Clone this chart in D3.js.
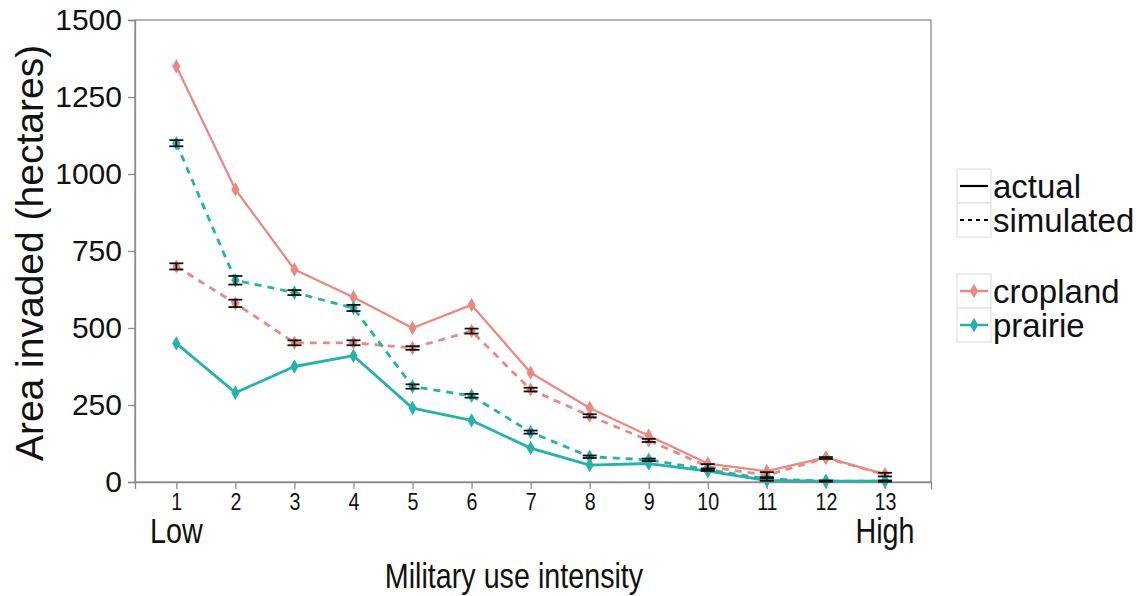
<!DOCTYPE html>
<html>
<head>
<meta charset="utf-8">
<script src="https://cdn.jsdelivr.net/npm/d3@7"></script>
<style>
  html, body { margin: 0; padding: 0; background: #fff; }
  svg text { font-family: Arial, "Liberation Sans", sans-serif; fill: #111; }
</style>
</head>
<body>
<svg id="chart" width="1146" height="596"></svg>
<script>
// Military use intensity levels (1 = low, 13 = high)
const intensity = [1, 2, 3, 4, 5, 6, 7, 8, 9, 10, 11, 12, 13];

// Area invaded (hectares), observed
const croplandActual = [1350, 950, 690, 600, 500, 575, 355, 240, 150, 60, 35, 80, 25];
const prairieActual  = [450, 290, 375, 410, 240, 200, 110, 55, 60, 35, 5, 3, 3];

// Area invaded (hectares), simulated mean and half-width of error bar
const croplandSim    = [700, 580, 452, 452, 435, 490, 300, 215, 135, 50, 22, 78, 24];
const croplandSimErr = [10, 12, 8, 8, 6, 8, 6, 5, 5, 8, 10, 3, 6];
const prairieSim     = [1100, 655, 615, 565, 310, 280, 162, 82, 72, 40, 10, 3, 3];
const prairieSimErr  = [10, 14, 8, 10, 7, 6, 5, 4, 4, 4, 6, 2, 2];

const yTicks = [0, 250, 500, 750, 1000, 1250, 1500];
const colors = { cropland: "#e88a82", prairie: "#26b1ab" };

// Horizontal squeeze used to imitate a narrow typeface on the x axis
const narrow = 0.82;

const svg = d3.select("#chart");
const panel = { left: 135, right: 931, top: 20, bottom: 482 };

const x = d3.scaleLinear().domain([0.3, 13.78]).range([panel.left, panel.right]);
const y = d3.scaleLinear().domain([0, 1500]).range([panel.bottom, panel.top]);

// Panel frame
svg.append("rect")
  .attr("x", panel.left).attr("y", panel.top)
  .attr("width", panel.right - panel.left).attr("height", panel.bottom - panel.top)
  .attr("fill", "none").attr("stroke", "#8c8c8c").attr("stroke-width", 1.3);

// Axes
const yAxis = svg.append("g")
  .attr("transform", `translate(${panel.left},0)`)
  .call(d3.axisLeft(y).tickValues(yTicks).tickFormat(d3.format("d")).tickSize(7).tickPadding(6));
yAxis.select(".domain").attr("stroke", "#8c8c8c").attr("stroke-width", 1.3);
yAxis.selectAll(".tick line").attr("stroke", "#8c8c8c").attr("stroke-width", 1.3);
yAxis.selectAll(".tick text").attr("font-size", 30).attr("fill", "#111")
  .style("font-family", "Arial, 'Liberation Sans', sans-serif");

const xAxis = svg.append("g")
  .attr("transform", `translate(0,${panel.bottom})`)
  .call(d3.axisBottom(x).tickValues(intensity).tickFormat(d3.format("d")).tickSize(7).tickPadding(4));
xAxis.select(".domain").attr("stroke", "#8c8c8c").attr("stroke-width", 1.3);
xAxis.selectAll(".tick line").attr("stroke", "#8c8c8c").attr("stroke-width", 1.3);
xAxis.selectAll(".tick text").attr("font-size", 24).attr("fill", "#111")
  .attr("transform", `scale(${narrow},1)`)
  .style("font-family", "Arial, 'Liberation Sans', sans-serif");

// Condensed text helper for x-axis annotations
function narrowText(cx, cy, size, label) {
  svg.append("g").attr("transform", `translate(${cx},${cy}) scale(${narrow},1)`)
    .append("text").attr("text-anchor", "middle").attr("font-size", size).text(label);
}

// End labels of the intensity scale
narrowText(x(1), 543, 35, "Low");
narrowText(x(13), 543, 35, "High");

// Axis titles
narrowText((panel.left + panel.right) / 2 - 19, 588, 35, "Military use intensity");
svg.append("text")
  .attr("transform", `translate(43,${(panel.top + panel.bottom) / 2 + 2}) rotate(-90)`)
  .attr("text-anchor", "middle").attr("font-size", 39)
  .text("Area invaded (hectares)");

// Series definitions
const series = [
  { name: "croplandActual", values: croplandActual, color: colors.cropland, dashed: false, width: 2.3 },
  { name: "prairieActual",  values: prairieActual,  color: colors.prairie,  dashed: false, width: 2.8 },
  { name: "croplandSim",    values: croplandSim,    color: colors.cropland, dashed: true,  width: 2.8, err: croplandSimErr },
  { name: "prairieSim",     values: prairieSim,     color: colors.prairie,  dashed: true,  width: 2.8, err: prairieSimErr }
];

const line = d3.line().x((d, i) => x(intensity[i])).y(d => y(d));
const diamond = d3.symbol().type(d3.symbolDiamond).size(60);

const plot = svg.append("g");

series.forEach(s => {
  plot.append("path")
    .datum(s.values)
    .attr("d", line)
    .attr("fill", "none")
    .attr("stroke", s.color)
    .attr("stroke-width", s.width)
    .attr("stroke-linejoin", "round")
    .attr("stroke-dasharray", s.dashed ? "7,6" : null);
});

series.forEach(s => {
  plot.selectAll(null)
    .data(s.values)
    .join("path")
    .attr("d", diamond)
    .attr("transform", (d, i) => `translate(${x(intensity[i])},${y(d)})`)
    .attr("fill", s.color);
});

// Error bars on simulated means
series.filter(s => s.err).forEach(s => {
  const g = plot.append("g").attr("stroke", "#111").attr("stroke-width", 1.8);
  s.values.forEach((v, i) => {
    const cx = x(intensity[i]);
    const lo = y(v - s.err[i]), hi = y(v + s.err[i]);
    g.append("line").attr("x1", cx).attr("x2", cx).attr("y1", lo).attr("y2", hi);
    g.append("line").attr("x1", cx - 7).attr("x2", cx + 7).attr("y1", lo).attr("y2", lo);
    g.append("line").attr("x1", cx - 7).attr("x2", cx + 7).attr("y1", hi).attr("y2", hi);
  });
});

// Legends
const keyX = 957, keyW = 34, keyH = 34;
const typeLegend = [
  { label: "actual", dashed: false },
  { label: "simulated", dashed: true }
];
const landLegend = [
  { label: "cropland", color: colors.cropland },
  { label: "prairie", color: colors.prairie }
];

const lg1 = svg.append("g").attr("transform", "translate(0,169)");
typeLegend.forEach((d, i) => {
  const g = lg1.append("g").attr("transform", `translate(${keyX},${i * keyH})`);
  g.append("rect").attr("width", keyW).attr("height", keyH).attr("fill", "#fff").attr("stroke", "#dcdcdc");
  g.append("line").attr("x1", 3).attr("x2", keyW - 3).attr("y1", keyH / 2).attr("y2", keyH / 2)
    .attr("stroke", "#000").attr("stroke-width", 2.2).attr("stroke-dasharray", d.dashed ? "4,4" : null);
  g.append("text").attr("x", keyW + 2).attr("y", keyH / 2).attr("dy", "0.36em")
    .attr("font-size", 33).text(d.label);
});

const lg2 = svg.append("g").attr("transform", "translate(0,274)");
landLegend.forEach((d, i) => {
  const g = lg2.append("g").attr("transform", `translate(${keyX},${i * keyH})`);
  g.append("rect").attr("width", keyW).attr("height", keyH).attr("fill", "#fff").attr("stroke", "#dcdcdc");
  g.append("line").attr("x1", 3).attr("x2", keyW - 3).attr("y1", keyH / 2).attr("y2", keyH / 2)
    .attr("stroke", d.color).attr("stroke-width", 2.5);
  g.append("path").attr("d", diamond).attr("transform", `translate(${keyW / 2},${keyH / 2})`).attr("fill", d.color);
  g.append("text").attr("x", keyW + 2).attr("y", keyH / 2).attr("dy", "0.36em")
    .attr("font-size", 33).text(d.label);
});
</script>
</body>
</html>
